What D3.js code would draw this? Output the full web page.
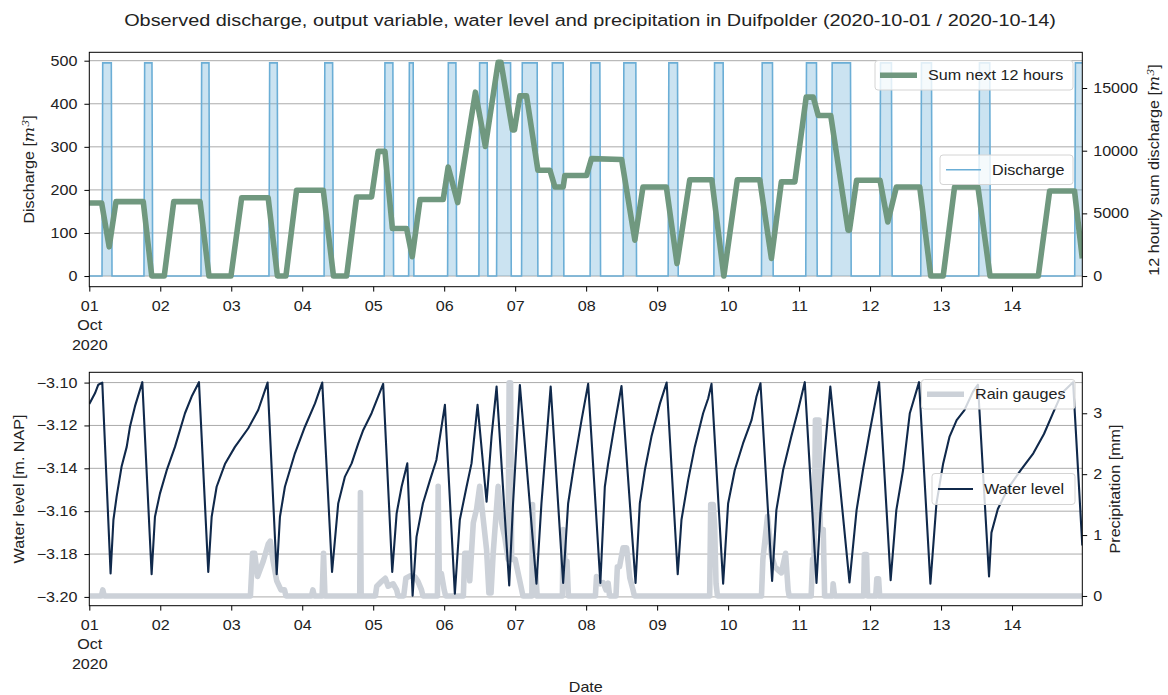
<!DOCTYPE html>
<html>
<head>
<meta charset="utf-8">
<script src="https://cdn.jsdelivr.net/npm/d3@7"></script>
<style>
body { margin: 0; background: #fff; }
svg { font-family: "Liberation Sans", Arial, sans-serif; }
</style>
</head>
<body>
<svg id="chart" width="1168" height="695"></svg>
<script>
// tick labels for the shared date axis
const dayLabels = ["01","02","03","04","05","06","07","08","09","10","11","12","13","14"];

// pump on / off periods (days after 2020-10-01 00:00) and pumping rate
const pumpStart = [0.179,0.770,1.573,2.531,3.308,4.155,4.499,5.048,5.489,5.738,6.090,6.513,7.056,7.521,8.155,8.799,9.470,10.094,10.456,11.137,11.714,12.531,13.883];
const pumpEnd   = [0.310,0.883,1.686,2.648,3.428,4.277,4.563,5.165,5.606,5.935,6.310,6.676,7.193,7.700,8.287,8.930,9.625,10.245,10.724,11.301,11.865,12.686,13.990];
const pumpRate = 495;

// sum of discharge over the next 12 hours
const sumDay = [0,0.174,0.28,0.376,0.76,0.88,1.056,1.19,1.56,1.686,1.996,2.146,2.52,2.65,2.77,2.92,3.296,3.44,3.625,3.766,3.977,4.07,4.165,4.27,4.47,4.55,4.66,4.986,5.056,5.19,5.44,5.58,5.76,5.80,5.96,5.99,6.066,6.16,6.32,6.49,6.56,6.676,6.70,7.006,7.075,7.50,7.686,7.80,8.13,8.28,8.46,8.77,8.94,9.13,9.446,9.61,9.75,9.94,10.10,10.20,10.27,10.446,10.69,10.71,10.81,11.14,11.25,11.37,11.70,11.855,12.03,12.19,12.52,12.69,13.37,13.53,13.88,13.99];
const sumM3  = [5830,5830,2330,5935,5935,0,0,5935,5935,0,0,6245,6245,0,0,6845,6845,0,0,6310,6310,9950,9950,3795,3795,1545,6105,6105,8700,5865,14670,10345,17050,17050,11660,11660,14370,14370,8440,8440,7100,7100,8025,8025,9365,9300,2865,7100,7100,995,7685,7685,0,7685,7685,1405,7510,7510,14270,14270,12810,12810,3660,3660,7640,7640,4320,7100,7100,0,0,7100,7100,0,0,6790,6790,1405];

// water level [m NAP]
const levelDay = [0,0.08,0.127,0.183,0.30,0.34,0.386,0.456,0.527,0.573,0.644,0.747,0.878,0.925,0.996,1.09,1.207,1.348,1.442,1.545,1.676,1.724,1.794,1.911,2.052,2.24,2.38,2.512,2.64,2.686,2.756,2.897,3.038,3.18,3.282,3.42,3.507,3.60,3.696,3.79,3.86,3.977,4.14,4.268,4.33,4.40,4.48,4.555,4.61,4.70,4.80,4.89,5.01,5.15,5.22,5.315,5.385,5.47,5.597,5.667,5.738,5.916,5.97,6.066,6.30,6.37,6.50,6.676,6.746,6.84,6.935,7.028,7.20,7.263,7.31,7.404,7.498,7.696,7.756,7.827,7.92,8.04,8.134,8.29,8.343,8.437,8.53,8.648,8.72,8.766,8.93,9.0,9.094,9.21,9.33,9.40,9.456,9.62,9.68,9.775,9.89,9.986,10.08,10.245,10.30,10.36,10.44,10.71,10.81,10.90,11.0,11.127,11.29,11.37,11.465,11.56,11.69,11.85,11.935,12.03,12.12,12.22,12.33,12.45,12.52,12.676,12.71,12.80,12.95,13.12,13.30,13.45,13.58,13.70,13.86,13.99];
const levelM = [-3.110,-3.105,-3.101,-3.100,-3.189,-3.164,-3.153,-3.139,-3.130,-3.1206,-3.111,-3.0998,-3.1894,-3.1626,-3.1517,-3.141,-3.130,-3.1143,-3.1065,-3.0998,-3.1883,-3.1626,-3.1486,-3.138,-3.130,-3.1213,-3.1128,-3.100,-3.1894,-3.1626,-3.1486,-3.133,-3.1206,-3.1097,-3.100,-3.1883,-3.1564,-3.144,-3.1377,-3.1284,-3.1221,-3.1143,-3.1006,-3.1883,-3.161,-3.1486,-3.1377,-3.1994,-3.172,-3.1564,-3.1455,-3.1361,-3.1104,-3.1985,-3.164,-3.1486,-3.1377,-3.1104,-3.1556,-3.1252,-3.1019,-3.1946,-3.1564,-3.1011,-3.1938,-3.1564,-3.1019,-3.1935,-3.1564,-3.1361,-3.1175,-3.1006,-3.1935,-3.1486,-3.1377,-3.119,-3.1016,-3.1935,-3.1564,-3.1408,-3.1252,-3.1097,-3.100,-3.1894,-3.164,-3.1455,-3.130,-3.1143,-3.1073,-3.1006,-3.1938,-3.1564,-3.1408,-3.1284,-3.1175,-3.1065,-3.1003,-3.1925,-3.1595,-3.1408,-3.1252,-3.1128,-3.0998,-3.1935,-3.161,-3.133,-3.1019,-3.1932,-3.1595,-3.1408,-3.122,-3.0998,-3.1922,-3.1595,-3.1408,-3.1143,-3.0998,-3.1938,-3.1564,-3.1377,-3.1252,-3.1175,-3.1128,-3.1042,-3.101,-3.1904,-3.170,-3.159,-3.149,-3.141,-3.133,-3.124,-3.114,-3.105,-3.0998,-3.176];

// rain gauges [mm]
const rainDay = [0,0.17,0.19,0.21,2.27,2.30,2.33,2.37,2.45,2.52,2.55,2.59,2.64,2.70,2.75,2.77,3.13,3.15,3.17,3.28,3.30,3.32,3.81,3.82,3.83,4.03,4.05,4.12,4.17,4.21,4.28,4.33,4.35,4.43,4.46,4.52,4.59,4.63,4.68,4.70,4.905,4.915,4.93,4.96,5.00,5.02,5.27,5.29,5.34,5.36,5.41,5.457,5.50,5.55,5.597,5.63,5.66,5.69,5.76,5.81,5.855,5.90,5.915,5.935,5.95,6.00,6.07,6.11,6.235,6.245,6.26,6.29,6.31,6.665,6.676,6.70,6.73,6.75,7.13,7.146,7.20,7.24,7.28,7.31,7.33,7.42,7.44,7.47,7.52,7.57,7.615,7.66,7.68,8.74,8.755,8.79,8.81,8.83,8.85,9.47,9.49,9.555,9.61,9.66,9.70,9.75,9.81,9.845,9.86,10.17,10.19,10.21,10.23,10.28,10.30,10.34,10.36,10.47,10.48,10.50,10.91,10.92,10.95,10.965,11.08,11.095,11.12,11.135,13.99];
const rainMm  = [0,0,0.10,0,0,0.70,0.70,0.32,0.57,0.85,0.90,0.57,0.25,0.10,0.10,0,0,0.10,0,0,0.70,0,0,1.70,0,0,0.16,0.24,0.29,0.16,0.20,0.10,0,0,0.29,0.33,0.31,0.24,0.10,0,0,1.80,0.37,0.37,0.10,0,0,0.70,0.70,0.25,1.20,1.43,1.80,1.26,0.76,0.05,0.05,0.70,1.80,1.20,0.95,0.60,3.50,3.50,0.60,0.60,0.22,0,0,1.50,0.38,0.38,0,0,1.09,0.57,0.57,0,0,0.32,0.20,0.22,0.10,0.21,0,0,0.48,0.48,0.79,0.79,0.30,0.10,0,0,1.50,1.50,1.14,0.20,0,0,0.60,1.31,0.67,0.48,0.43,0.38,0.70,0.10,0,0,0.60,0.60,2.89,2.89,1.09,1.09,0,0,0.20,0,0,0.68,0.68,0,0,0.28,0.28,0,0];

const svg = d3.select('#chart');
const t0 = Date.UTC(2020, 9, 1);
const toDate = d => new Date(t0 + d * 864e5);

const left = 89.3, right = 1082.3;
const x = d3.scaleUtc().domain([toDate(0), toDate(13.99)]).range([left, right]);

const top1 = 52.3, bot1 = 286.7;
const top2 = 372.3, bot2 = 605.7;

const yQ = d3.scaleLinear().domain([-24.75, 519.5]).range([bot1, top1]);
const ySum = d3.scaleLinear().domain([-850, 17850]).range([bot1, top1]);
const yL = d3.scaleLinear().domain([-3.2041, -3.0952]).range([bot2, top2]);
const yP = d3.scaleLinear().domain([-0.16, 3.673]).range([bot2, top2]);

const fs = 13.9;
const wide = 1.16;   // glyphs in the picture are drawn wider than Liberation Sans

function clip(id, y0, y1) {
    svg.append('clipPath').attr('id', id)
        .append('rect').attr('x', left).attr('y', y0).attr('width', right - left).attr('height', y1 - y0);
}
clip('c1', top1, bot1);
clip('c2', top2, bot2);

function grid(yScale, ticks) {
    svg.append('g').selectAll('line')
        .data(ticks).enter().append('line')
        .attr('x1', left).attr('x2', right)
        .attr('y1', d => yScale(d)).attr('y2', d => yScale(d))
        .attr('stroke', '#ababab').attr('stroke-width', 1);
}

function styleAxis(g) {
    g.select('.domain').remove();
    g.selectAll('line').attr('stroke', '#000').attr('stroke-width', 1);
    g.selectAll('text').attr('font-size', fs).attr('fill', '#222');
    g.attr('font-family', null).attr('font-size', null);
    return g;
}

function xAxis(y) {
    const g = svg.append('g').attr('transform', `translate(0,${y})`)
        .call(d3.axisBottom(x).ticks(d3.utcDay.every(1)).tickSize(4.9).tickPadding(4.9)
            .tickFormat((d, i) => dayLabels[i]));
    styleAxis(g);
    g.selectAll('text').attr('dy', null).attr('y', 24);
    const first = g.select('.tick text');
    first.text(null);
    first.append('tspan').attr('x', 0).text('01');
    first.append('tspan').attr('x', 0).attr('dy', 19.6).text('Oct');
    first.append('tspan').attr('x', 0).attr('dy', 19.6).text('2020');
}

function spines(y0, y1) {
    svg.append('rect').attr('x', left).attr('y', y0).attr('width', right - left).attr('height', y1 - y0)
        .attr('fill', 'none').attr('stroke', '#000').attr('stroke-width', 1);
}

function legend(x0, y0, w, h, label, color, width, sx1, sx2, tx) {
    const g = svg.append('g');
    g.append('rect').attr('x', x0).attr('y', y0).attr('width', w).attr('height', h).attr('rx', 3)
        .attr('fill', 'rgba(255,255,255,0.8)').attr('stroke', '#d4d4d4');
    g.append('line').attr('x1', sx1).attr('x2', sx2).attr('y1', y0 + h / 2).attr('y2', y0 + h / 2)
        .attr('stroke', color).attr('stroke-width', width);
    g.append('text').attr('x', tx).attr('y', y0 + h / 2 + 5).attr('font-size', fs).attr('fill', '#222').text(label);
}

function yLabel(x0, yc, parts) {
    const t = svg.append('text').attr('transform', `translate(${x0},${yc}) rotate(-90)`)
        .attr('text-anchor', 'middle').attr('font-size', fs).attr('fill', '#222');
    parts.forEach(p => {
        const s = t.append('tspan').text(p.t);
        if (p.i) s.attr('font-style', 'italic').attr('font-family', '"DejaVu Serif", serif');
        if (p.sup) s.attr('font-size', 9.5).attr('dy', -5);
        if (p.down) s.attr('dy', 5);
    });
}

// ---------- top panel ----------
grid(yQ, [0, 100, 200, 300, 400, 500]);

let qPts = [{ d: 0, q: 0 }];
for (let i = 0; i < pumpStart.length; i++) {
    qPts.push({ d: pumpStart[i], q: 0 });
    qPts.push({ d: pumpStart[i] + 0.01, q: pumpRate });
    qPts.push({ d: pumpEnd[i], q: pumpRate });
    if (pumpEnd[i] < 13.98) qPts.push({ d: pumpEnd[i] + 0.01, q: 0 });
}
if (pumpEnd[pumpEnd.length - 1] < 13.98) qPts.push({ d: 13.99, q: 0 });

const topG = svg.append('g').attr('clip-path', 'url(#c1)');
topG.append('path').datum(qPts)
    .attr('d', d3.area().x(p => x(toDate(p.d))).y0(yQ(0)).y1(p => yQ(p.q)))
    .attr('fill', '#6baed6').attr('fill-opacity', 0.35);
topG.append('path').datum(qPts)
    .attr('d', d3.line().x(p => x(toDate(p.d))).y(p => yQ(p.q)))
    .attr('fill', 'none').attr('stroke', '#6baed6').attr('stroke-width', 1.6);

const sumPts = sumDay.map((d, i) => [d, sumM3[i]]);
topG.append('path').datum(sumPts)
    .attr('d', d3.line().x(p => x(toDate(p[0]))).y(p => ySum(p[1])))
    .attr('fill', 'none').attr('stroke', '#70987f').attr('stroke-width', 5.6)
    .attr('stroke-linejoin', 'round');

styleAxis(svg.append('g').attr('transform', `translate(${left},0)`)
    .call(d3.axisLeft(yQ).tickValues([0, 100, 200, 300, 400, 500]).tickSize(4.9).tickPadding(7)));
styleAxis(svg.append('g').attr('transform', `translate(${right},0)`)
    .call(d3.axisRight(ySum).tickValues([0, 5000, 10000, 15000]).tickFormat(d3.format('d')).tickSize(4.9).tickPadding(6)));
xAxis(bot1);
spines(top1, bot1);

legend(875, 60.5, 198, 29.5, 'Sum next 12 hours', '#70987f', 5.6, 880, 917, 928);
legend(940, 155, 133, 29.5, 'Discharge', '#6baed6', 1.6, 946, 981, 992);

yLabel(34, 169.5, [{ t: 'Discharge [' }, { t: 'm', i: true }, { t: '3', i: true, sup: true }, { t: ']', down: true }]);
yLabel(1159, 170, [{ t: '12 hourly sum discharge [' }, { t: 'm', i: true }, { t: '3', i: true, sup: true }, { t: ']', down: true }]);

// ---------- bottom panel ----------
grid(yL, [-3.20, -3.18, -3.16, -3.14, -3.12, -3.10]);

const bottomG = svg.append('g').attr('clip-path', 'url(#c2)');
const rainPts = rainDay.map((d, i) => [d, rainMm[i]]);
bottomG.append('path').datum(rainPts)
    .attr('d', d3.line().x(p => x(toDate(p[0]))).y(p => yP(p[1])))
    .attr('fill', 'none').attr('stroke', '#ccd1d8').attr('stroke-width', 5.6)
    .attr('stroke-linejoin', 'round');

const levelPts = levelDay.map((d, i) => [d, levelM[i]]);
bottomG.append('path').datum(levelPts)
    .attr('d', d3.line().x(p => x(toDate(p[0]))).y(p => yL(p[1])))
    .attr('fill', 'none').attr('stroke', '#10294b').attr('stroke-width', 2.1)
    .attr('stroke-linejoin', 'round');

styleAxis(svg.append('g').attr('transform', `translate(${left},0)`)
    .call(d3.axisLeft(yL).tickValues([-3.20, -3.18, -3.16, -3.14, -3.12, -3.10]).tickFormat(d3.format('.2f'))
        .tickSize(4.9).tickPadding(7)));
styleAxis(svg.append('g').attr('transform', `translate(${right},0)`)
    .call(d3.axisRight(yP).tickValues([0, 1, 2, 3]).tickFormat(d3.format('d')).tickSize(4.9).tickPadding(6)));
xAxis(bot2);
spines(top2, bot2);

legend(921.5, 379.5, 153.5, 29.5, 'Rain gauges', '#ccd1d8', 5.6, 927, 964, 975);
legend(932, 473.5, 143, 31, 'Water level', '#10294b', 2.1, 938, 973, 984);

yLabel(24, 489, [{ t: 'Water level [m. NAP]' }]);
yLabel(1120, 489, [{ t: 'Precipitation [mm]' }]);

svg.append('text').attr('x', 585.8).attr('y', 692).attr('text-anchor', 'middle')
    .attr('font-size', fs).attr('fill', '#222').text('Date');

const title = svg.append('text').attr('class', 'title').attr('x', 590).attr('y', 25.5).attr('text-anchor', 'middle')
    .attr('font-size', 16.7).attr('fill', '#222')
    .text('Observed discharge, output variable, water level and precipitation in Duifpolder (2020-10-01 / 2020-10-14)');

// widen every label the same way
svg.selectAll('text').each(function () {
    const el = d3.select(this);
    const k = el.classed('title') ? 1.19 : wide;
    const lines = el.selectAll('tspan[x]');
    const parts = lines.empty() ? el : lines;
    parts.each(function () {
        d3.select(this).attr('textLength', this.getComputedTextLength() * k)
            .attr('lengthAdjust', 'spacingAndGlyphs');
    });
});
</script>
</body>
</html>
